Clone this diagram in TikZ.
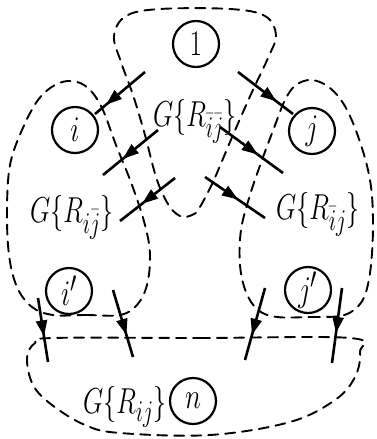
\documentclass[tikz,border=0pt]{standalone}
\usetikzlibrary{arrows.meta,decorations.markings}
\newcommand\hwlab[1]{\scalebox{1.05}[1.45]{#1}}
\newcommand\hwvert[1]{\scalebox{1.1}[1.45]{#1}}
\begin{document}
\begin{tikzpicture}[x=1pt,y=-1pt,
  vert/.style={circle,draw,line width=2.2pt,minimum size=46pt,inner sep=0pt,font=\Huge},
  region/.style={line width=1.9pt,dash pattern=on 10pt off 7pt,line cap=round},
  arr/.style={line width=2.6pt,postaction={decorate},
    decoration={markings,mark=at position #1 with {\arrow{Triangle[length=16pt,width=11pt]}}}},
  arr/.default=0.6,
  lab/.style={font=\Huge,inner sep=0pt}]
\useasboundingbox (0,0) rectangle (377,439);

% vertices
\node[vert] (n1) at (196,44) {\hwvert{$1$}};
\node[vert] (ni) at (75,130) {\hwvert{$i$}};
\node[vert] (nj) at (312,131) {\hwvert{$j$}};
\node[vert] (nip) at (69,291) {\hwvert{$i'$}};
\node[vert] (njp) at (308,290) {\hwvert{$j'$}};
\node[vert] (nn) at (193,401) {\hwvert{$n$}};

% labels
\node[lab] (l1) at (195,121) {\hwlab{$G\{R_{\bar{i}\bar{j}}\}$}};
\node[lab] (l2) at (72,217) {\hwlab{$G\{R_{i\bar{j}}\}$}};
\node[lab] (l3) at (318,214) {\hwlab{$G\{R_{\bar{i}j}\}$}};
\node[lab] (l4) at (125,407) {\hwlab{$G\{R_{ij}\}$}};

% dashed regions
\draw[region] plot[smooth,tension=0.6] coordinates {(200,207) (213,182) (233,135) (252,92) (268,58) (276,35) (265,16) (230,9) (160,9) (126,16) (114,36) (121,62) (133,95) (145,135) (157,180) (170,207) (183,217) (196,213)};
\draw[region] plot[smooth cycle,tension=0.6] coordinates {(53,315) (86,315) (120,315) (137,305) (147,285) (150,255) (145,225) (132,185) (116,145) (102,108) (88,88) (72,81) (55,85) (38,100) (22,130) (10,165) (7,210) (9,255) (17,287) (32,307)};
\draw[region] plot[smooth cycle,tension=0.6] coordinates {(277,317) (310,317) (340,316) (355,309) (365,295) (371,265) (373,220) (370,180) (360,142) (346,108) (330,88) (312,80) (296,85) (285,100) (274,128) (262,160) (250,195) (241,230) (240,265) (246,292) (258,310)};
\draw[region] plot[smooth cycle,tension=0.6] coordinates {(53,338) (200,338) (350,338) (360,352) (355,377) (335,400) (290,422) (210,435) (120,433) (85,425) (52,405) (33,385) (27,358) (35,343)};

% arrow end points
\coordinate (a1s) at (145,72);  \coordinate (a1e) at (95,114);
\coordinate (a2s) at (238,72);  \coordinate (a2e) at (293,114);
\coordinate (a3s) at (158,130); \coordinate (a3e) at (103,175);
\coordinate (a4s) at (175,178); \coordinate (a4e) at (120,221);
\coordinate (a5s) at (220,127); \coordinate (a5e) at (283,173);
\coordinate (a6s) at (205,177); \coordinate (a6e) at (265,218);
\coordinate (b1s) at (38,298);  \coordinate (b1e) at (48,362);
\coordinate (b2s) at (113,290); \coordinate (b2e) at (133,357);
\coordinate (b3s) at (265,288); \coordinate (b3e) at (245,360);
\coordinate (b4s) at (342,288); \coordinate (b4e) at (332,363);

\draw[arr=0.78] (a1s) -- (a1e);
\draw[arr=0.7] (a2s) -- (a2e);
\draw[arr=0.64] (a3s) -- (a3e);
\draw[arr=0.6] (a4s) -- (a4e);
\draw[arr=0.6] (a5s) -- (a5e);
\draw[arr=0.55] (a6s) -- (a6e);
\draw[arr=0.6] (b1s) -- (b1e);
\draw[arr=0.67] (b2s) -- (b2e);
\draw[arr=0.65] (b3s) -- (b3e);
\draw[arr=0.6] (b4s) -- (b4e);
\end{tikzpicture}
\end{document}
